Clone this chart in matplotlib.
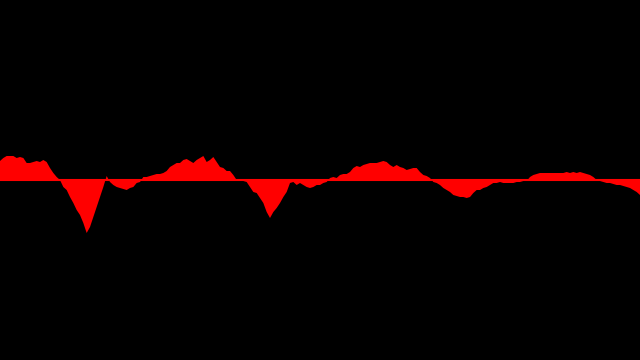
import matplotlib
matplotlib.use("Agg")
import matplotlib.pyplot as plt
import numpy as np

# waveform amplitude samples (pixels above/below centre)
amplitude = [
    19, 22, 24, 24, 24, 22, 23, 22, 17, 17, 18, 19, 18, 20, 18, 12, 7, 3, 0, -7, -10, -17, -23, -30,
    -35, -43, -53, -47, -37, -27, -17, -7, 4, -2, -5, -7, -8, -9, -10, -8, -7, -3, -2, 3, 3, 4, 5, 6,
    6, 7, 9, 13, 15, 17, 17, 20, 21, 19, 17, 20, 22, 24, 18, 20, 23, 18, 13, 12, 9, 9, 5, 0,
    -1, -1, -2, -7, -12, -13, -18, -23, -32, -38, -32, -28, -23, -17, -12, -3, -2, -5, -3, -5, -7, -8, -7, -5,
    -5, -3, -2, 2, 3, 2, 5, 6, 6, 8, 12, 14, 13, 15, 16, 17, 17, 17, 18, 19, 18, 15, 13, 15,
    13, 12, 10, 11, 12, 12, 8, 5, 4, 2, -2, -3, -5, -8, -10, -12, -15, -16, -17, -17, -18, -17, -13, -10,
    -10, -8, -7, -5, -3, -3, -2, -3, -3, -3, -3, -2, -2, -1, -1, 3, 5, 6, 7, 7, 7, 7, 7, 7,
    7, 7, 8, 7, 8, 7, 8, 7, 6, 5, 3, 0, -1, -2, -3, -3, -4, -5, -5, -6, -7, -8, -10, -12, -15,
]

amp = np.array(amplitude, dtype=float)
t = np.linspace(0, 640, len(amp))

fig = plt.figure(figsize=(6.4, 3.6), dpi=100, facecolor="black")
ax = fig.add_axes([0, 0, 1, 1])
ax.set_facecolor("black")

ax.fill_between(t, amp, 0, color="#ff0000", linewidth=0, interpolate=True)
ax.axhline(0, color="#ff0000", linewidth=1.5)

ax.set_xlim(0, 640)
ax.set_ylim(-180, 180)
ax.axis("off")

fig.savefig("out.png", dpi=100, facecolor="black")
